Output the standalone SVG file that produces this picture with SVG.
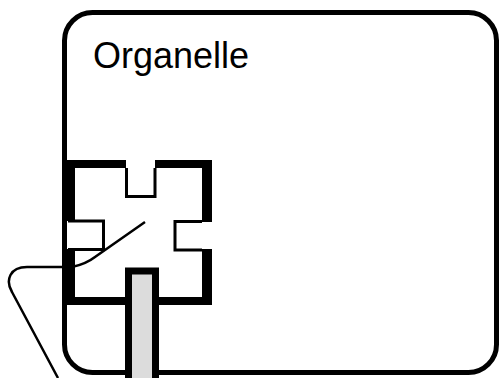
<svg xmlns="http://www.w3.org/2000/svg" width="500" height="378" viewBox="0 0 500 378">
<style>
.wall{fill:#000}
.thin{fill:none;stroke:#000;stroke-width:3}
.lbl{font-family:"Liberation Sans",Arial,sans-serif;font-size:36px;fill:#000}
</style>
<rect width="500" height="378" fill="#fff"/>
<g id="connectors">
<path d="M145,222 L95,257 Q86,264 72,267 L27,267 C10,267 5,280 12,292 L58,378" fill="none" stroke="#000" stroke-width="2.5"/>
</g>
<g id="organelle">
<rect x="64.5" y="12.5" width="432" height="360" rx="28" fill="none" stroke="#000" stroke-width="5"/>
<text class="lbl" x="93" y="68">Organelle</text>
</g>
<g id="box">
<rect class="wall" x="64" y="160" width="62" height="8"/>
<rect class="wall" x="155" y="160" width="57" height="8"/>
<rect class="wall" x="202" y="160" width="10" height="62"/>
<rect class="wall" x="202" y="249" width="10" height="56"/>
<rect class="wall" x="64" y="297" width="62" height="8"/>
<rect class="wall" x="156" y="297" width="56" height="8"/>
<rect class="wall" x="64" y="160" width="11" height="61"/>
<rect class="wall" x="64" y="249" width="11" height="56"/>
<path class="thin" d="M126.5,168 V196.5 H155 V168"/>
<path class="thin" d="M202,221.5 H175 V250 H202"/>
<path class="thin" d="M68,221 H103.5 V249.5 H68" stroke-width="2.5"/>
</g>
<g id="stripe">
<rect x="128.5" y="271" width="27" height="120" fill="#dcdcdc" stroke="#000" stroke-width="7"/>
</g>
</svg>
